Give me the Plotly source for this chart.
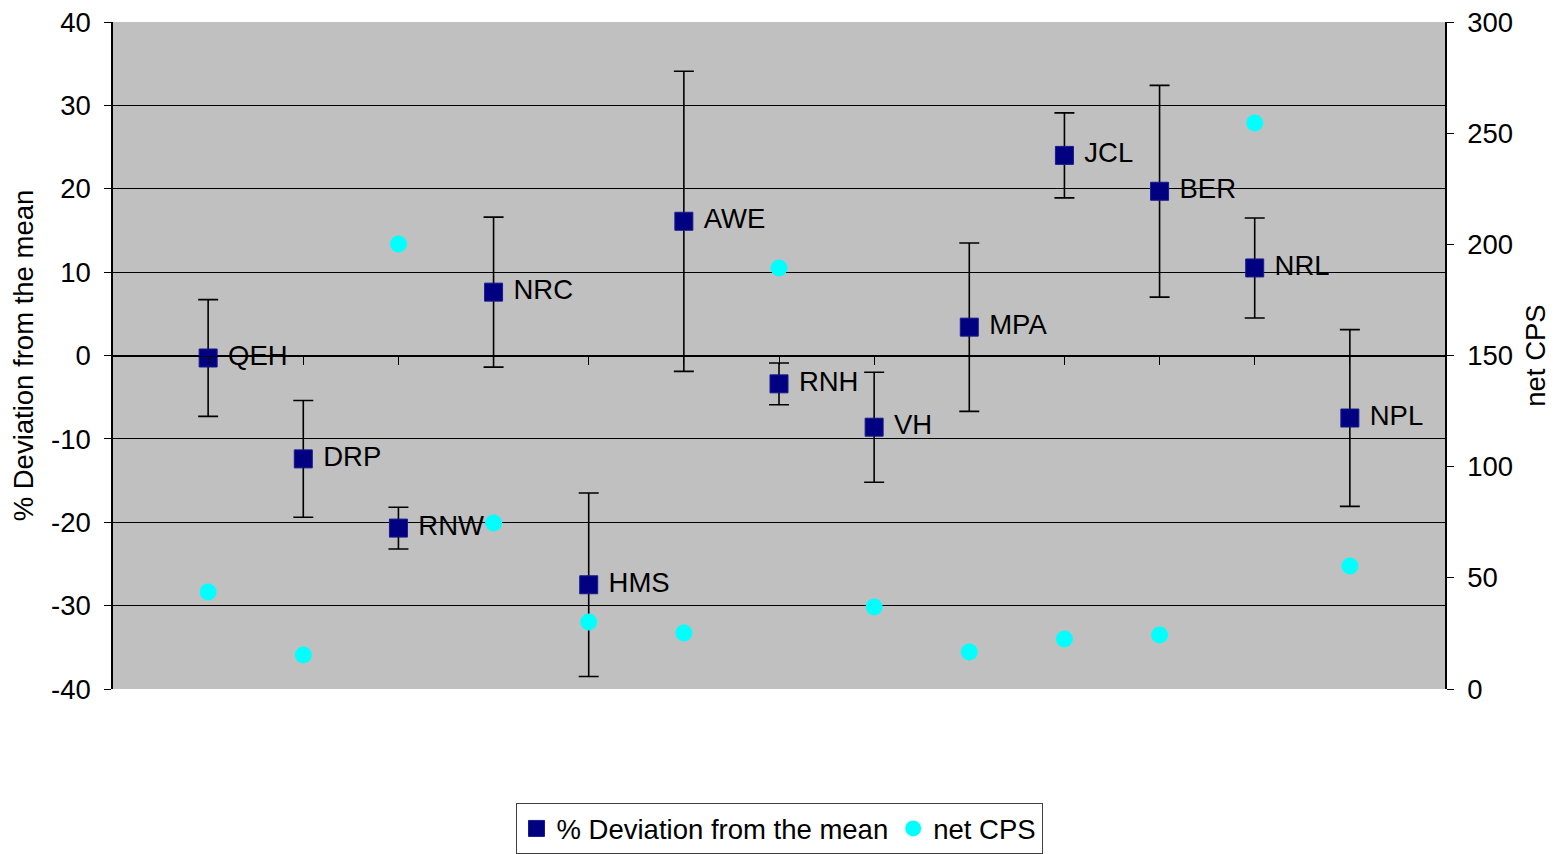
import plotly.graph_objects as go

labels = ["QEH", "DRP", "RNW", "NRC", "HMS", "AWE", "RNH", "VH", "MPA", "JCL", "BER", "NRL", "NPL"]
deviation = [-0.3, -12.4, -20.7, 7.6, -27.5, 16.1, -3.4, -8.6, 3.4, 24.0, 19.7, 10.5, -7.5]
dev_error = [7.0, 7.0, 2.5, 9.0, 11.0, 18.0, 2.5, 6.6, 10.1, 5.1, 12.7, 6.0, 10.6]
net_cps = [43.6, 15.3, 200.2, 74.7, 30.1, 25.2, 189.4, 36.9, 16.6, 22.5, 24.3, 254.6, 55.3]
positions = list(range(1, len(labels) + 1))

left_ticks = [-40, -30, -20, -10, 0, 10, 20, 30, 40]
left_ticktext = [str(v) for v in left_ticks]
right_ticks = [0, 50, 100, 150, 200, 250, 300]

FONT = "Liberation Sans, Arial, sans-serif"
FS = 27.5

fig = go.Figure()
fig.add_trace(go.Scatter(
    x=positions, y=deviation, mode="markers+text", name="% Deviation from the mean",
    text=["\u00a0" + t for t in labels], textposition="middle right",
    textfont=dict(family=FONT, size=FS, color="black"),
    marker=dict(symbol="square", size=18, color="#000080", line=dict(color="#1a1a8c", width=1)),
    error_y=dict(type="data", array=dev_error, visible=True, color="black", thickness=1.6, width=10),
    yaxis="y", cliponaxis=False,
))
fig.add_trace(go.Scatter(
    x=positions, y=net_cps, mode="markers", name="net CPS",
    marker=dict(symbol="circle", size=17, color="#00FFFF"),
    yaxis="y2",
))

fig.update_layout(
    width=1548, height=846,
    paper_bgcolor="white", plot_bgcolor="#C0C0C0",
    margin=dict(l=105, r=111, t=14, b=165, autoexpand=False),
    font=dict(family=FONT, size=FS, color="black"),
    showlegend=True,
    legend=dict(orientation="h", x=0.5, xanchor="center", y=-0.171, yanchor="top",
                bordercolor="#404040", borderwidth=1, bgcolor="white",
                font=dict(family=FONT, size=FS), itemwidth=30, tracegroupgap=0),
    xaxis=dict(range=[0, 14], anchor="free", position=0.5, showline=True, linecolor="black",
               linewidth=1, ticks="outside", ticklen=8, tickcolor="black", tickvals=positions,
               showticklabels=False, showgrid=False, zeroline=False),
    xaxis2=dict(range=[0, 14], overlaying="x", anchor="y", showline=True, mirror=True,
                linecolor="#808080", linewidth=2, showticklabels=False, showgrid=False,
                zeroline=False, ticks=""),
    yaxis=dict(range=[-40, 40], tickvals=left_ticks, ticktext=left_ticktext,
               showgrid=True, gridcolor="black", gridwidth=1,
               zeroline=False, showline=True, linecolor="black", linewidth=1.5,
               ticks="outside", ticklen=7, tickcolor="black", ticklabelstandoff=8,
               ticklabeloverflow="allow", automargin=False,
               title=dict(text="% Deviation from the mean", font=dict(size=FS), standoff=10),
               tickfont=dict(size=FS)),
    yaxis2=dict(range=[0, 300], tickvals=right_ticks, overlaying="y", side="right", showgrid=False,
                zeroline=False, showline=True, linecolor="black", linewidth=1.5,
                ticks="outside", ticklen=7, tickcolor="black", ticklabelstandoff=8,
                ticklabeloverflow="allow", automargin=False,
                title=dict(text="net CPS", font=dict(size=FS), standoff=14),
                tickfont=dict(size=FS)),
    yaxis3=dict(range=[0, 300], tickvals=right_ticks, overlaying="y", side="right", showgrid=False,
                zeroline=False, showline=False, ticks="inside", ticklen=7, tickcolor="black",
                showticklabels=False, automargin=False),
)

fig.write_html("out.html")
